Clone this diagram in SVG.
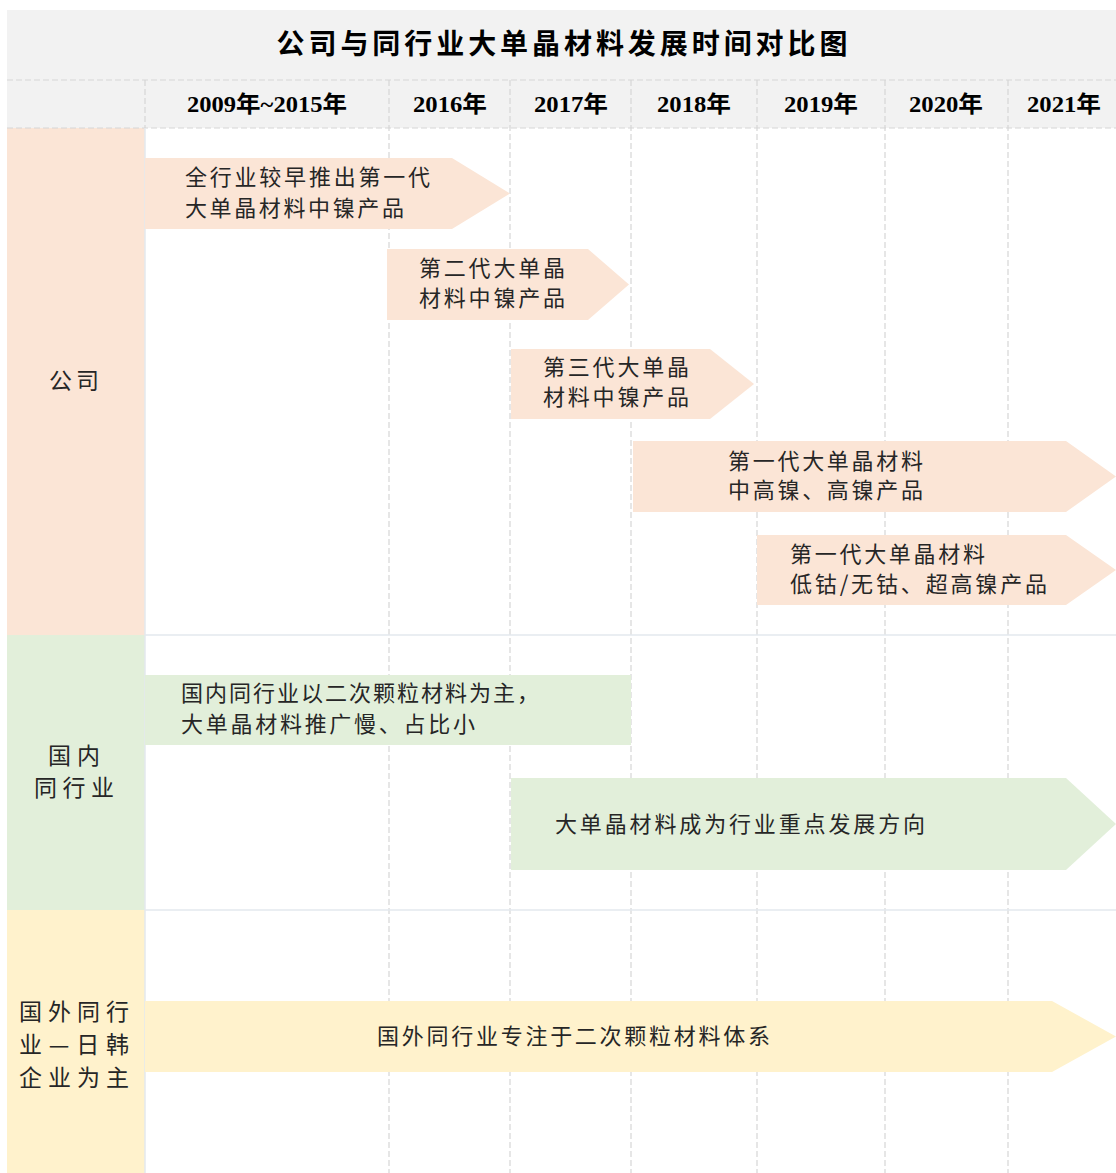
<svg xmlns="http://www.w3.org/2000/svg" width="1116" height="1173" viewBox="0 0 1116 1173">
<style>
.grid{stroke:#d6d6d6;stroke-width:1.2;stroke-dasharray:6 3;fill:none}
.sep{stroke:#e3e8ee;stroke-width:1.5;fill:none}
.t{font-family:"Noto Sans CJK SC","Liberation Serif",serif;font-size:22px;fill:#262626;dominant-baseline:central}
.lab{font-family:"Noto Sans CJK SC",sans-serif;font-size:23px;fill:#262626;dominant-baseline:central;text-anchor:middle}
.yr{font-family:"Liberation Serif","Noto Sans CJK SC",serif;font-size:23px;font-weight:bold;fill:#000;dominant-baseline:central;text-anchor:middle}
.title{font-family:"Noto Sans CJK SC",sans-serif;font-size:28px;font-weight:bold;fill:#000;dominant-baseline:central;text-anchor:middle}
.o{fill:#fbe5d6}.g{fill:#e2efda}.y{fill:#fff2cc}
</style>
<rect width="1116" height="1173" fill="#ffffff"/>
<g id="background">
<rect x="7" y="10" width="1109" height="118" fill="#f2f2f2"/>
<rect x="7" y="128" width="138" height="507" class="o"/>
<rect x="7" y="635" width="138" height="275" class="g"/>
<rect x="7" y="910" width="138" height="263" class="y"/>
</g>
<g id="grid">
<line class="grid" x1="7" y1="80" x2="1116" y2="80"/>
<line class="grid" x1="7" y1="128" x2="1116" y2="128"/>
<line class="grid" x1="145" y1="80" x2="145" y2="128"/>
<line class="grid" x1="389" y1="80" x2="389" y2="1173"/>
<line class="grid" x1="510" y1="80" x2="510" y2="1173"/>
<line class="grid" x1="631" y1="80" x2="631" y2="1173"/>
<line class="grid" x1="757" y1="80" x2="757" y2="1173"/>
<line class="grid" x1="885" y1="80" x2="885" y2="1173"/>
<line class="grid" x1="1008" y1="80" x2="1008" y2="1173"/>
<line class="sep" x1="145" y1="635" x2="1116" y2="635"/>
<line class="sep" x1="145" y1="910" x2="1116" y2="910"/>
<line class="sep" x1="145" y1="128" x2="145" y2="1173"/>
</g>
<g id="title"><text class="title" x="562" y="42" textLength="571" lengthAdjust="spacing">公司与同行业大单晶材料发展时间对比图</text></g>
<g id="years">
<text class="yr" x="267" y="104" textLength="160" lengthAdjust="spacingAndGlyphs">2009年~2015年</text>
<text class="yr" x="450" y="104" textLength="74" lengthAdjust="spacingAndGlyphs">2016年</text>
<text class="yr" x="571" y="104" textLength="74" lengthAdjust="spacingAndGlyphs">2017年</text>
<text class="yr" x="694" y="104" textLength="74" lengthAdjust="spacingAndGlyphs">2018年</text>
<text class="yr" x="821" y="104" textLength="74" lengthAdjust="spacingAndGlyphs">2019年</text>
<text class="yr" x="946" y="104" textLength="74" lengthAdjust="spacingAndGlyphs">2020年</text>
<text class="yr" x="1064" y="104" textLength="74" lengthAdjust="spacingAndGlyphs">2021年</text>
</g>
<g id="row-labels">
<text class="lab" x="74" y="379" textLength="50" lengthAdjust="spacing">公司</text>
<text class="lab" x="74" y="754" textLength="52" lengthAdjust="spacing">国内</text>
<text class="lab" x="74" y="786" textLength="80" lengthAdjust="spacing">同行业</text>
<text class="lab" x="74" y="1010" textLength="110" lengthAdjust="spacing">国外同行</text>
<text class="lab" x="74" y="1043" textLength="110" lengthAdjust="spacing">业—日韩</text>
<text class="lab" x="74" y="1076" textLength="110" lengthAdjust="spacing">企业为主</text>
</g>
<g id="n1"><polygon class="o" points="145,158 452,158 510,193.5 452,229 145,229"/>
<text class="t" x="185" y="175" textLength="245" lengthAdjust="spacing">全行业较早推出第一代</text>
<text class="t" x="185" y="206" textLength="219" lengthAdjust="spacing">大单晶材料中镍产品</text></g>
<g id="n2"><polygon class="o" points="387,249 588,249 629,284.5 588,320 387,320"/>
<text class="t" x="419" y="266" textLength="146" lengthAdjust="spacing">第二代大单晶</text>
<text class="t" x="419" y="296" textLength="146" lengthAdjust="spacing">材料中镍产品</text></g>
<g id="n3"><polygon class="o" points="511,349 710,349 754,384 710,419 511,419"/>
<text class="t" x="543" y="365" textLength="146" lengthAdjust="spacing">第三代大单晶</text>
<text class="t" x="543" y="395" textLength="146" lengthAdjust="spacing">材料中镍产品</text></g>
<g id="n4"><polygon class="o" points="633,441 1066,441 1116,476.5 1066,512 633,512"/>
<text class="t" x="728" y="459" textLength="195" lengthAdjust="spacing">第一代大单晶材料</text>
<text class="t" x="728" y="488" textLength="195" lengthAdjust="spacing">中高镍、高镍产品</text></g>
<g id="n5"><polygon class="o" points="757,535 1066,535 1116,570 1066,605 757,605"/>
<text class="t" x="790" y="552" textLength="195" lengthAdjust="spacing">第一代大单晶材料</text>
<text class="t" x="790" y="582" textLength="257" lengthAdjust="spacing">低钴/无钴、超高镍产品</text></g>
<g id="n6"><rect class="g" x="145" y="675" width="486" height="70"/>
<text class="t" x="181" y="691" textLength="358" lengthAdjust="spacing">国内同行业以二次颗粒材料为主，</text>
<text class="t" x="181" y="722" textLength="294" lengthAdjust="spacing">大单晶材料推广慢、占比小</text></g>
<g id="n7"><polygon class="g" points="511,778 1066,778 1116,824 1066,870 511,870"/>
<text class="t" x="555" y="822" textLength="370" lengthAdjust="spacing">大单晶材料成为行业重点发展方向</text></g>
<g id="n8"><polygon class="y" points="145,1001 1052,1001 1116,1036.5 1052,1072 145,1072"/>
<text class="t" x="377" y="1034" textLength="393" lengthAdjust="spacing">国外同行业专注于二次颗粒材料体系</text></g>
<g id="connectors"></g>
</svg>
